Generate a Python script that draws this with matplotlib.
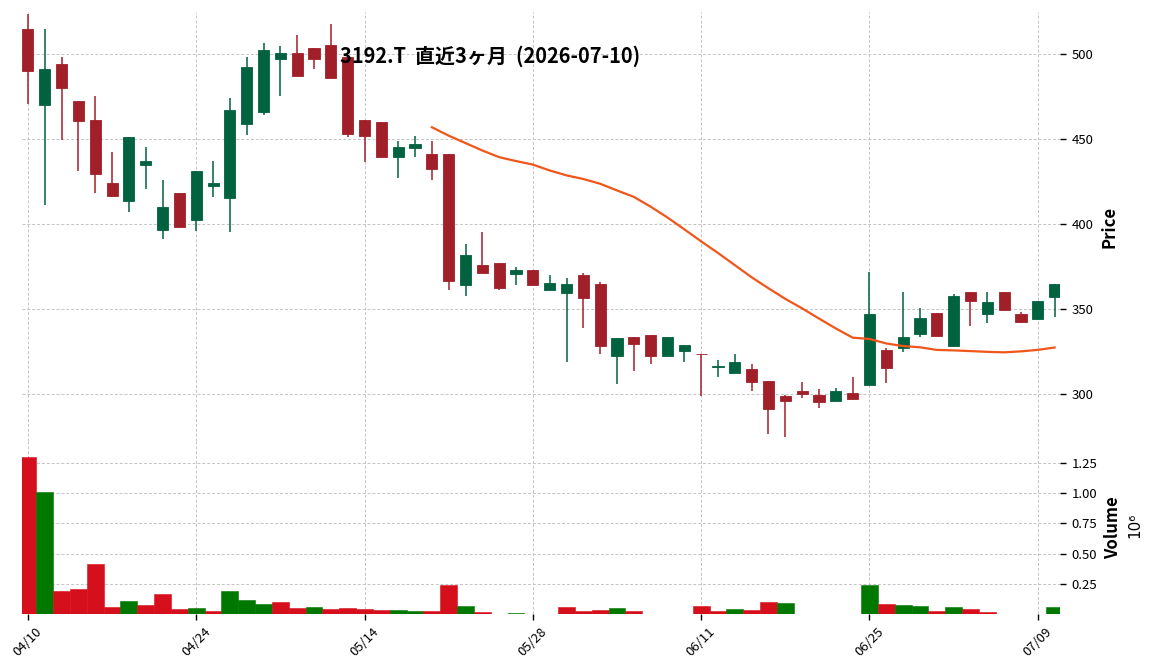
import matplotlib
matplotlib.use("Agg")
import matplotlib.pyplot as plt
import numpy as np
import pandas as pd
from matplotlib.ticker import FuncFormatter, FixedLocator

plt.rcParams['font.family'] = ['Noto Sans CJK JP', 'DejaVu Sans']

# ---------------- data ----------------
dates = ["2026-04-10", "2026-04-13", "2026-04-14", "2026-04-15", "2026-04-16", "2026-04-17",
         "2026-04-20", "2026-04-21", "2026-04-22", "2026-04-23", "2026-04-24", "2026-04-27",
         "2026-04-28", "2026-04-30", "2026-05-01", "2026-05-07", "2026-05-08", "2026-05-11",
         "2026-05-12", "2026-05-13", "2026-05-14", "2026-05-15", "2026-05-18", "2026-05-19",
         "2026-05-20", "2026-05-21", "2026-05-22", "2026-05-25", "2026-05-26", "2026-05-27",
         "2026-05-28", "2026-05-29", "2026-06-01", "2026-06-02", "2026-06-03", "2026-06-04",
         "2026-06-05", "2026-06-08", "2026-06-09", "2026-06-10", "2026-06-11", "2026-06-12",
         "2026-06-15", "2026-06-16", "2026-06-17", "2026-06-18", "2026-06-19", "2026-06-22",
         "2026-06-23", "2026-06-24", "2026-06-25", "2026-06-26", "2026-06-29", "2026-06-30",
         "2026-07-01", "2026-07-02", "2026-07-03", "2026-07-06", "2026-07-07", "2026-07-08",
         "2026-07-09", "2026-07-10"]

opens = [514.7, 470.2, 494.1, 472.4, 461.2, 424.1, 413.7, 434.9, 396.6, 418.2,
         402.5, 422.5, 415.5, 459.0, 466.1, 497.2, 500.6, 503.5, 505.5, 498.5,
         461.2, 460.0, 439.6, 444.9, 441.2, 441.2, 364.3, 375.9, 377.1, 370.8,
         372.9, 361.2, 359.6, 370.2, 364.9, 322.5, 333.5, 334.7, 322.5, 325.5,
         323.5, 316.2, 312.5, 314.7, 307.6, 299.0, 301.8, 299.6, 296.1, 300.6,
         305.5, 325.9, 327.2, 335.5, 347.6, 328.2, 360.0, 347.2, 360.0, 347.1,
         344.3, 357.2]
highs = [523.4, 514.5, 498.0, 472.6, 475.1, 442.5, 451.4, 445.3, 425.7, 418.4,
         431.4, 436.9, 473.9, 498.0, 506.3, 504.5, 511.2, 503.7, 517.5, 499.5,
         461.4, 460.2, 449.0, 451.9, 449.0, 441.4, 388.0, 395.5, 377.3, 374.5,
         373.1, 370.0, 368.0, 371.2, 365.7, 333.1, 333.7, 334.9, 333.7, 329.0,
         323.7, 319.8, 323.3, 317.5, 307.8, 299.2, 307.2, 303.1, 303.4, 310.0,
         371.6, 327.2, 359.8, 350.8, 347.8, 358.6, 360.2, 360.0, 360.2, 348.4,
         354.9, 364.9]
lows = [470.6, 411.0, 449.4, 431.2, 418.1, 415.7, 407.1, 420.8, 391.0, 398.2,
        395.9, 415.7, 395.3, 452.2, 463.9, 475.1, 486.9, 491.0, 485.9, 451.0,
        436.3, 439.4, 426.9, 439.2, 425.7, 361.0, 357.5, 371.2, 361.2, 364.1,
        364.1, 361.0, 318.6, 338.6, 323.3, 305.7, 313.3, 317.5, 322.3, 318.6,
        299.0, 310.0, 312.3, 301.6, 276.5, 274.5, 297.5, 291.6, 295.9, 297.0,
        305.3, 306.3, 324.5, 333.3, 333.9, 328.0, 340.2, 341.6, 349.2, 341.6,
        344.1, 345.5]
closes = [490.2, 491.2, 480.2, 460.8, 429.6, 416.6, 451.2, 437.1, 410.0, 398.4,
          431.2, 424.1, 467.1, 492.4, 502.4, 500.6, 487.1, 497.2, 486.1, 453.1,
          451.9, 439.6, 445.3, 447.1, 432.5, 366.5, 381.8, 371.4, 362.5, 372.9,
          364.3, 365.2, 364.8, 356.6, 328.4, 332.9, 329.6, 322.5, 333.5, 328.8,
          323.3, 316.5, 318.8, 307.2, 291.4, 296.1, 300.2, 295.5, 301.8, 297.2,
          347.1, 315.5, 333.3, 344.5, 334.1, 357.6, 354.5, 354.0, 349.4, 342.5,
          354.7, 364.7]
volumes = [1300000, 1008000, 190000, 207000, 413000, 58000, 107000, 74000, 165000, 41000,
           50000, 25000, 190000, 116000, 83000, 99000, 50000, 58000, 41000, 50000,
           41000, 33000, 33000, 25000, 25000, 240000, 66000, 17000, 0, 12000,
           0, 0, 58000, 25000, 33000, 50000, 25000, 0, 0, 0,
           66000, 25000, 41000, 33000, 99000, 91000, 0, 0, 0, 0,
           240000, 83000, 74000, 66000, 25000, 58000, 41000, 17000, 0, 0,
           0, 58000]
ma_window = 25
price_ticks = [300, 350, 400, 450, 500]
volume_ticks = [250000, 500000, 750000, 1000000, 1250000]
title = "3192.T  直近3ヶ月  (2026-07-10)"

# ---------------- styles ----------------
UP_C = '#00623f'
DN_C = '#a11f29'
VUP_C = '#007800'
VDN_C = '#d60f1c'
MA_C = '#f0561a'
GRID_KW = dict(color='#c4c4c4', linestyle=(0, (3, 2)), linewidth=0.7)

df = pd.DataFrame({'date': pd.to_datetime(dates), 'open': opens, 'high': highs,
                   'low': lows, 'close': closes, 'volume': volumes})
x = np.arange(len(df))
ma = df['close'].rolling(ma_window).mean()

up = df['close'] >= df['open']
prev_close = df['close'].shift(1)
vol_up = (df['close'] >= prev_close)
vol_up.iloc[0] = bool(up.iloc[0])

W, H = 1156, 670
fig = plt.figure(figsize=(W / 100, H / 100), dpi=100)
left = 21.7 / W
width = (1060 - 21.7) / W
ax1 = fig.add_axes([left, 1 - 441 / H, width, (441 - 12) / H])
ax2 = fig.add_axes([left, 1 - 614 / H, width, (614 - 441) / H], sharex=ax1)

# candles
ccolors = [UP_C if u else DN_C for u in up]
ax1.vlines(x, df['low'], df['high'], colors=ccolors, linewidth=1.1, zorder=2)
body_bottom = np.minimum(df['open'], df['close'])
body_h = np.abs(df['close'] - df['open'])
ax1.bar(x, body_h, bottom=body_bottom, width=0.66, color=ccolors,
        edgecolor=ccolors, linewidth=0.6, zorder=3)
ax1.plot(x, ma, color=MA_C, linewidth=1.6, zorder=4)

# volume
vcolors = [VUP_C if u else VDN_C for u in vol_up]
ax2.bar(x, df['volume'], width=1.0, color=vcolors, edgecolor=vcolors,
        linewidth=0.4, zorder=2)

# axes setup
ax1.set_xlim(-0.37, len(df) - 1 + 0.32)
ax1.set_ylim(272.4, 524.7)
ax2.set_ylim(0, 1430000)

tick_idx = list(range(0, len(df), 10))
ax2.xaxis.set_major_locator(FixedLocator(tick_idx))
ax2.set_xticklabels([df['date'].iloc[i].strftime('%m/%d') for i in tick_idx],
                    rotation=45, ha='center', fontsize=9.5)
ax1.tick_params(axis='x', which='both', bottom=False, labelbottom=False)

for ax in (ax1, ax2):
    for s in ax.spines.values():
        s.set_visible(False)
    ax.yaxis.tick_right()
    ax.tick_params(axis='y', direction='out', length=4, width=1, labelsize=9.5, pad=4.5)
    ax.grid(True, **GRID_KW)
    ax.set_axisbelow(True)

ax2.tick_params(axis='x', direction='out', length=4, width=1, pad=4)
ax1.set_yticks(price_ticks)
ax2.set_yticks(volume_ticks)
ax2.yaxis.set_major_formatter(FuncFormatter(lambda v, p: f"{v / 1e6:.2f}"))

fig.text(1110 / W, 1 - 227 / H, "Price", rotation=90, ha='center', va='center',
         fontsize=12, fontweight='bold')
fig.text(1113 / W, 1 - 527.5 / H, "Volume", rotation=90, ha='center', va='center',
         fontsize=12, fontweight='bold')
fig.text(1135 / W, 1 - 525 / H, "10⁶", rotation=90, ha='center', va='center',
         fontsize=11, family=['DejaVu Sans'])
fig.text(490 / W, 1 - 56 / H, title, ha='center', va='center', fontsize=14.4,
         fontweight='bold')

fig.savefig('out.png', dpi=100)
